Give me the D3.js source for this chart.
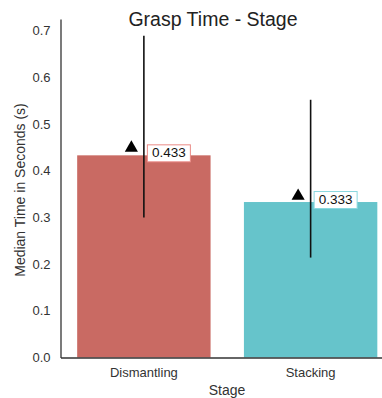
<!DOCTYPE html>
<html>
<head>
<meta charset="utf-8">
<script src="https://cdn.jsdelivr.net/npm/d3@7"></script>
<style>
  body { margin: 0; background: #fff; }
  text { font-family: Arial, "Liberation Sans", sans-serif; }
</style>
</head>
<body>
<svg id="chart" width="382" height="398"></svg>
<script>
// data
const stages = ['Dismantling', 'Stacking'];
const medians = [0.433, 0.333];
const means = [0.45, 0.347];
const errLow = [0.30, 0.214];
const errHigh = [0.689, 0.552];
const barColors = ['#c96a63', '#66c4cb'];
const boxColors = ['#ea8b87', '#8ad8df'];
const yTicks = [0.0, 0.1, 0.2, 0.3, 0.4, 0.5, 0.6, 0.7];

const svg = d3.select('#chart');
const margin = { left: 60.5, top: 19, bottom: 357.5 };

let x = d3.scaleBand()
    .domain(stages)
    .range([margin.left, 394])
    .paddingInner(0)
    .paddingOuter(0);
let y = d3.scaleLinear()
    .domain([0, 0.725])
    .range([margin.bottom, margin.top]);

const bw = x.bandwidth();
const barW = bw * 0.8;

// bars
svg.selectAll('rect.bar')
    .data(stages)
    .enter().append('rect')
    .attr('class', 'bar')
    .attr('x', d => x(d) + (bw - barW) / 2)
    .attr('width', barW)
    .attr('y', (d, i) => y(medians[i]))
    .attr('height', (d, i) => y(0) - y(medians[i]))
    .attr('fill', (d, i) => barColors[i]);

// error lines
svg.selectAll('line.err')
    .data(stages)
    .enter().append('line')
    .attr('x1', d => x(d) + bw / 2)
    .attr('x2', d => x(d) + bw / 2)
    .attr('y1', (d, i) => y(errLow[i]))
    .attr('y2', (d, i) => y(errHigh[i]))
    .attr('stroke', '#111')
    .attr('stroke-width', 1.6);

// mean markers
svg.selectAll('path.mean')
    .data(stages)
    .enter().append('path')
    .attr('d', d3.symbol().type(d3.symbolTriangle).size(75))
    .attr('transform', (d, i) => 'translate(' + (x(d) + bw / 2 - 12.5) + ',' + (y(means[i]) + 0.5) + ')')
    .attr('fill', '#000');

// value labels
stages.forEach(function(s, i) {
    let cx = x(s) + bw / 2;
    let cy = y(medians[i]);
    let g = svg.append('g');
    g.append('rect')
        .attr('x', cx + 3.5)
        .attr('y', cy - 10.5)
        .attr('width', 43)
        .attr('height', 17)
        .attr('fill', '#fff')
        .attr('stroke', boxColors[i])
        .attr('stroke-width', 1);
    g.append('text')
        .attr('x', cx + 25)
        .attr('y', cy - 1.5)
        .attr('text-anchor', 'middle')
        .attr('dominant-baseline', 'middle')
        .attr('font-size', 13.5)
        .attr('fill', '#111')
        .text(medians[i].toFixed(3));
});

// axes
let yAxis = d3.axisLeft(y).tickValues(yTicks).tickSize(0).tickPadding(10).tickFormat(d3.format('.1f'));
let yg = svg.append('g').attr('transform', 'translate(' + margin.left + ',0)').call(yAxis);
yg.select('.domain').attr('stroke', '#333').attr('stroke-width', 1.3);
yg.selectAll('text').attr('font-size', 13).attr('fill', '#333');

let xAxis = d3.axisBottom(x).tickSize(0).tickPadding(10);
let xg = svg.append('g').attr('transform', 'translate(0,' + margin.bottom + ')').call(xAxis);
xg.select('.domain').attr('stroke', '#333').attr('stroke-width', 1.3);
xg.selectAll('text').attr('font-size', 13).attr('fill', '#333');

// titles
svg.append('text')
    .attr('x', 213)
    .attr('y', 26)
    .attr('text-anchor', 'middle')
    .attr('font-size', 19.5)
    .attr('fill', '#222')
    .text('Grasp Time - Stage');

svg.append('text')
    .attr('x', 227)
    .attr('y', 395)
    .attr('text-anchor', 'middle')
    .attr('font-size', 14)
    .attr('fill', '#333')
    .text('Stage');

svg.append('text')
    .attr('transform', 'translate(25,190) rotate(-90)')
    .attr('text-anchor', 'middle')
    .attr('font-size', 14)
    .attr('fill', '#333')
    .text('Median Time in Seconds (s)');
</script>
</body>
</html>
